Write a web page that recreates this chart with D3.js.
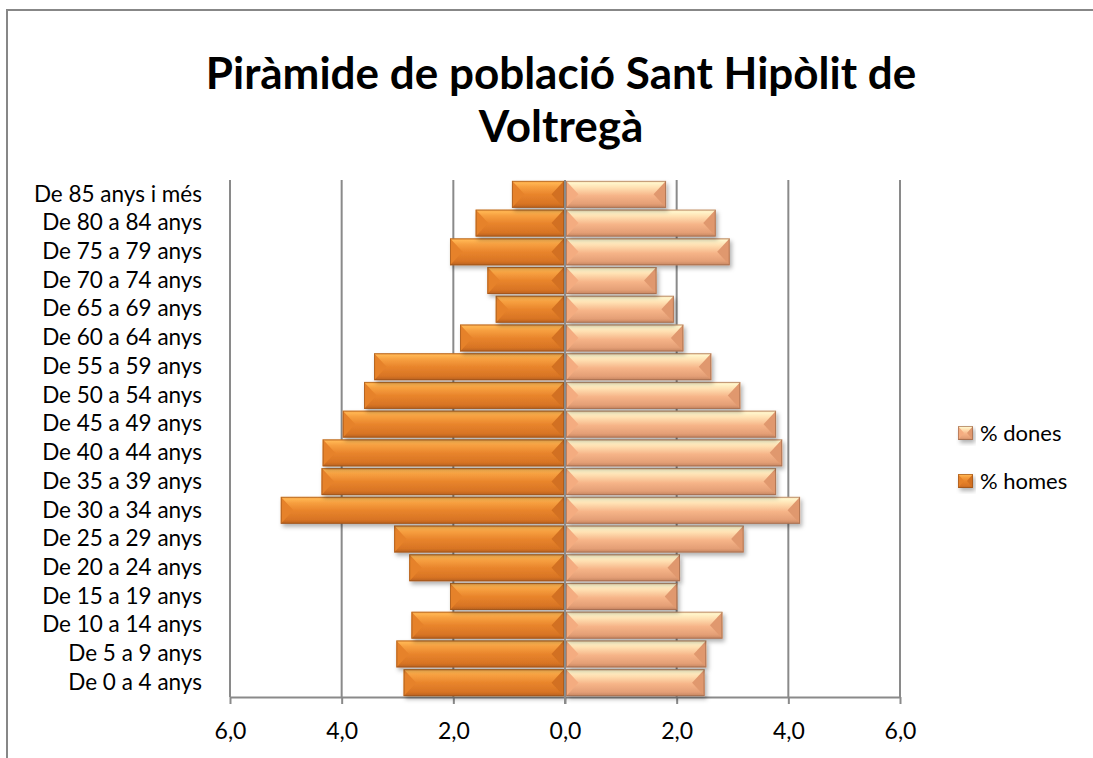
<!DOCTYPE html>
<html lang="ca">
<head>
<meta charset="UTF-8">
<title>Piràmide de població Sant Hipòlit de Voltregà</title>
<script src="https://d3js.org/d3.v7.min.js"></script>
<style>
    body { margin: 0; background: #fff; }
    svg { display: block; font-family: Lato, "Open Sans", sans-serif; }
</style>
</head>
<body>
<svg id="chart" width="1093" height="758"></svg>
<script>
// age groups, bottom to top
const ageGroups = [
    "De 0 a 4 anys", "De 5 a 9 anys", "De 10 a 14 anys", "De 15 a 19 anys",
    "De 20 a 24 anys", "De 25 a 29 anys", "De 30 a 34 anys", "De 35 a 39 anys",
    "De 40 a 44 anys", "De 45 a 49 anys", "De 50 a 54 anys", "De 55 a 59 anys",
    "De 60 a 64 anys", "De 65 a 69 anys", "De 70 a 74 anys", "De 75 a 79 anys",
    "De 80 a 84 anys", "De 85 anys i més"
];
const homes = [2.89, 3.02, 2.75, 2.06, 2.79, 3.06, 5.09, 4.36, 4.34, 3.98, 3.60, 3.42, 1.88, 1.24, 1.39, 2.06, 1.60, 0.95];
const dones = [2.50, 2.53, 2.82, 2.01, 2.06, 3.20, 4.21, 3.78, 3.89, 3.78, 3.14, 2.62, 2.12, 1.95, 1.64, 2.95, 2.70, 1.81];
const xTicks = [-6, -4, -2, 0, 2, 4, 6];
const titleLines = ["Piràmide de població Sant Hipòlit de", "Voltregà"];
const legendItems = ["% dones", "% homes"];

const svg = d3.select("#chart");

const plot = { left: 230, right: 900, top: 180, bottom: 697 };

const x = d3.scaleLinear().domain([-6, 6]).range([plot.left, plot.right]);
const y = d3.scaleBand()
    .domain(ageGroups.slice().reverse())
    .range([plot.top, plot.bottom])
    .paddingInner(0.06)
    .paddingOuter(0.03);

// colour sets for the bevelled bars
const styles = {
    homes: {
        stops: [[0, "#f19538"], [0.08, "#ffb552"], [0.22, "#f7a040"], [0.5, "#e9852c"], [0.85, "#d87424"], [1, "#b7601e"]],
        left: "#e6822a", right: "#d27020", edge: "#8f4e1c"
    },
    dones: {
        stops: [[0, "#f8cfa0"], [0.08, "#fff6cc"], [0.25, "#ffe0b2"], [0.55, "#f6b488"], [0.85, "#e49f76"], [1, "#c48460"]],
        left: "#f4ac80", right: "#e0986e", edge: "#8e5c42"
    }
};

const defs = svg.append("defs");
Object.entries(styles).forEach(([key, s]) => {
    const g = defs.append("linearGradient")
        .attr("id", "grad-" + key)
        .attr("x1", 0).attr("y1", 0).attr("x2", 0).attr("y2", 1);
    s.stops.forEach(([o, c]) => g.append("stop").attr("offset", o).attr("stop-color", c));
});
const shadow = defs.append("filter").attr("id", "shadow")
    .attr("x", "-10%").attr("y", "-20%").attr("width", "130%").attr("height", "160%");
shadow.append("feDropShadow")
    .attr("dx", 2).attr("dy", 3).attr("stdDeviation", 2)
    .attr("flood-color", "#000").attr("flood-opacity", 0.3);

// outer chart border
svg.append("rect")
    .attr("x", 7).attr("y", 10)
    .attr("width", 1200).attr("height", 900)
    .attr("fill", "none")
    .attr("stroke", "#878787")
    .attr("stroke-width", 2);

// title
svg.append("text")
    .attr("x", 561).attr("y", 89)
    .attr("text-anchor", "middle")
    .attr("font-size", 44)
    .attr("font-weight", "bold")
    .attr("fill", "#000")
    .selectAll("tspan")
    .data(titleLines)
    .enter()
    .append("tspan")
    .attr("x", 561)
    .attr("dy", (d, i) => i === 0 ? 0 : 53)
    .text(d => d);

// vertical gridlines
svg.append("g")
    .selectAll("line")
    .data(xTicks.filter(d => d !== 0))
    .enter()
    .append("line")
    .attr("x1", d => x(d)).attr("x2", d => x(d))
    .attr("y1", plot.top).attr("y2", plot.bottom)
    .attr("stroke", "#8a8a8a")
    .attr("stroke-width", 2);

// bottom axis
const xAxis = d3.axisBottom(x)
    .tickValues(xTicks)
    .tickSize(7)
    .tickSizeOuter(0)
    .tickPadding(19)
    .tickFormat(d => d3.format(".1f")(Math.abs(d)).replace(".", ","));
const gx = svg.append("g")
    .attr("transform", `translate(0,${plot.bottom})`)
    .call(xAxis);
gx.select(".domain").attr("stroke", "#8a8a8a").attr("stroke-width", 2);
gx.selectAll(".tick line").attr("stroke", "#8a8a8a").attr("stroke-width", 2);
gx.selectAll(".tick text")
    .attr("font-size", 23)
    .attr("font-family", "Lato, sans-serif")
    .attr("fill", "#000");

// category labels
const yAxis = d3.axisLeft(y).tickSize(0).tickPadding(0);
const gy = svg.append("g")
    .attr("transform", `translate(202,0)`)
    .call(yAxis);
gy.select(".domain").remove();
gy.selectAll(".tick text")
    .attr("font-size", 22.5)
    .attr("font-family", "Lato, sans-serif")
    .attr("fill", "#000");

// draw one bevelled bar
function bevelBar(g, bx, by, bw, bh, key) {
    const s = styles[key];
    const b = Math.min(bh / 2 - 1, bw / 2);
    const bar = g.append("g").attr("filter", "url(#shadow)");
    bar.append("rect")
        .attr("x", bx).attr("y", by)
        .attr("width", bw).attr("height", bh)
        .attr("fill", `url(#grad-${key})`);
    bar.append("polygon")
        .attr("points", [[bx, by], [bx + b, by + bh / 2], [bx, by + bh]].join(" "))
        .attr("fill", s.left);
    bar.append("polygon")
        .attr("points", [[bx + bw, by], [bx + bw - b, by + bh / 2], [bx + bw, by + bh]].join(" "))
        .attr("fill", s.right);
    bar.append("rect")
        .attr("x", bx + 0.5).attr("y", by + 0.5)
        .attr("width", bw - 1).attr("height", bh - 1)
        .attr("fill", "none")
        .attr("stroke", s.edge)
        .attr("stroke-opacity", 0.55)
        .attr("stroke-width", 1);
}

const barsG = svg.append("g");
ageGroups.forEach((cat, i) => {
    const by = y(cat);
    const bh = y.bandwidth();
    // homes to the left of zero
    bevelBar(barsG, x(-homes[i]), by, x(0) - 1 - x(-homes[i]), bh, "homes");
    // dones to the right of zero
    bevelBar(barsG, x(0) + 1, by, x(dones[i]) - x(0) - 1, bh, "dones");
});

// zero line over the bars
svg.append("line")
    .attr("x1", x(0)).attr("x2", x(0))
    .attr("y1", plot.top).attr("y2", plot.bottom + 7)
    .attr("stroke", "#8a8a8a")
    .attr("stroke-width", 2);

// legend
const legend = svg.append("g").attr("transform", "translate(958,426)");
legendItems.forEach((name, i) => {
    const key = i === 0 ? "dones" : "homes";
    const item = legend.append("g").attr("transform", `translate(0,${i * 48})`);
    bevelBar(item, 0, 0, 15, 14, key);
    item.append("text")
        .attr("x", 22).attr("y", 7)
        .attr("dy", "0.35em")
        .attr("font-size", 22)
        .attr("fill", "#000")
        .text(name);
});
</script>
</body>
</html>
